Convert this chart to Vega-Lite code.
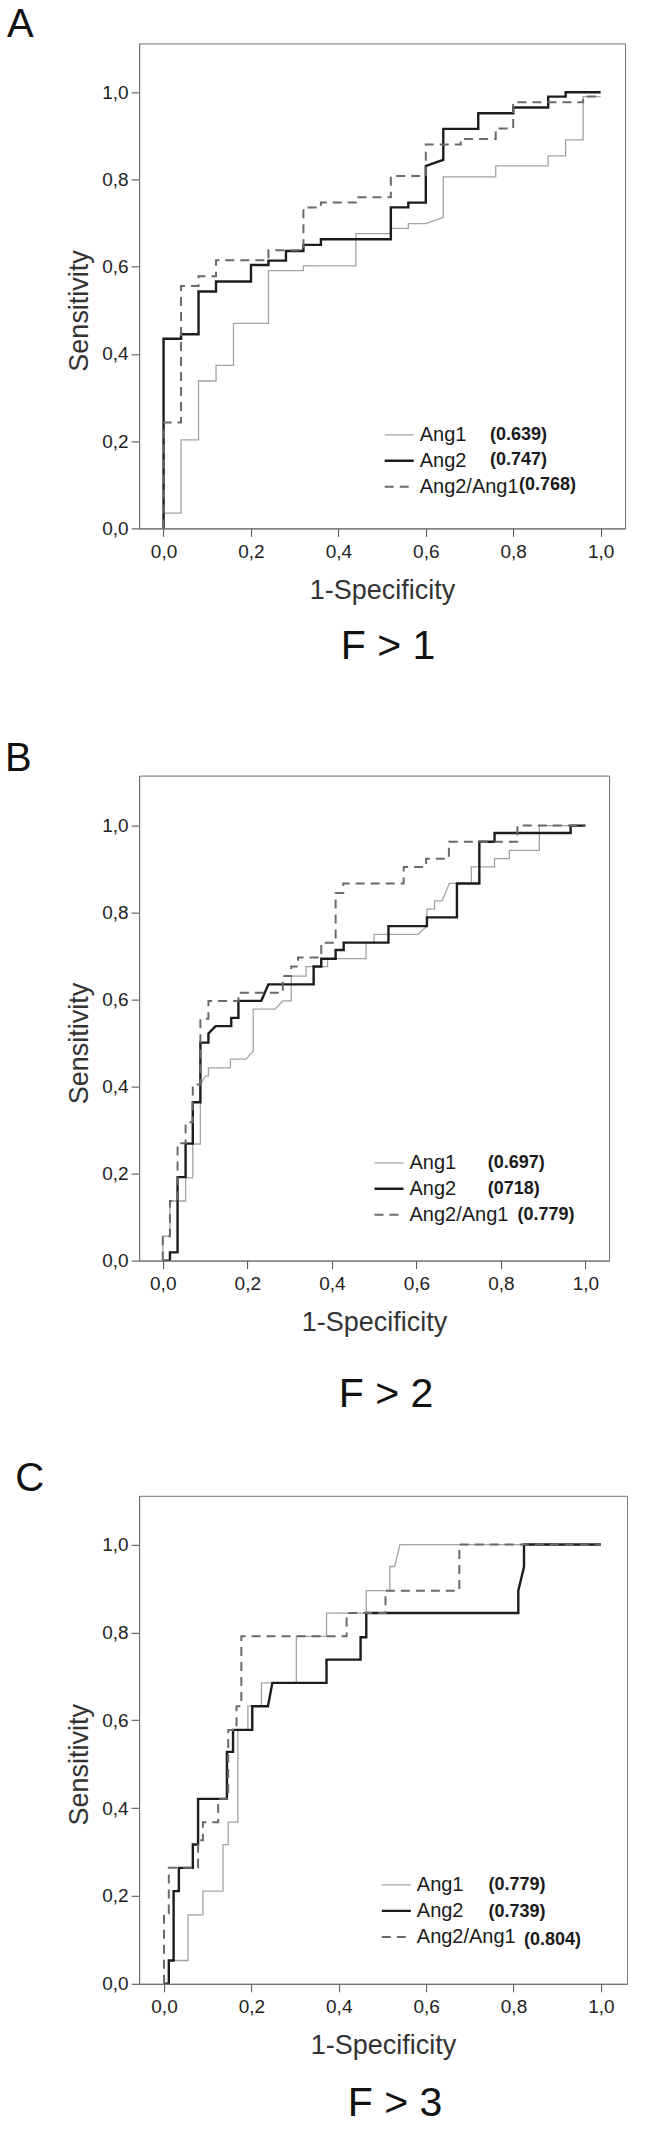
{
  "$schema": "https://vega.github.io/schema/vega-lite/v6.json",
  "background": "white",
  "padding": {"left": 4.1, "top": 4.4, "right": 0, "bottom": 0},
  "spacing": 42.2,
  "resolve": {"scale": {"color": "independent", "strokeDash": "independent", "shape": "independent", "fill": "independent"}, "legend": {"color": "independent", "strokeDash": "independent", "shape": "independent", "fill": "independent"}},
  "datasets": {
    "roc": [
      {"panel": "A", "series": "Ang1", "x": 0, "y": 0},
      {"panel": "A", "series": "Ang1", "x": 0, "y": 0.035},
      {"panel": "A", "series": "Ang1", "x": 0.04, "y": 0.035},
      {"panel": "A", "series": "Ang1", "x": 0.04, "y": 0.203},
      {"panel": "A", "series": "Ang1", "x": 0.08, "y": 0.203},
      {"panel": "A", "series": "Ang1", "x": 0.08, "y": 0.338},
      {"panel": "A", "series": "Ang1", "x": 0.12, "y": 0.338},
      {"panel": "A", "series": "Ang1", "x": 0.12, "y": 0.374},
      {"panel": "A", "series": "Ang1", "x": 0.16, "y": 0.374},
      {"panel": "A", "series": "Ang1", "x": 0.16, "y": 0.47},
      {"panel": "A", "series": "Ang1", "x": 0.24, "y": 0.47},
      {"panel": "A", "series": "Ang1", "x": 0.24, "y": 0.591},
      {"panel": "A", "series": "Ang1", "x": 0.32, "y": 0.591},
      {"panel": "A", "series": "Ang1", "x": 0.32, "y": 0.602},
      {"panel": "A", "series": "Ang1", "x": 0.44, "y": 0.602},
      {"panel": "A", "series": "Ang1", "x": 0.44, "y": 0.676},
      {"panel": "A", "series": "Ang1", "x": 0.52, "y": 0.676},
      {"panel": "A", "series": "Ang1", "x": 0.52, "y": 0.688},
      {"panel": "A", "series": "Ang1", "x": 0.56, "y": 0.688},
      {"panel": "A", "series": "Ang1", "x": 0.56, "y": 0.699},
      {"panel": "A", "series": "Ang1", "x": 0.6, "y": 0.699},
      {"panel": "A", "series": "Ang1", "x": 0.64, "y": 0.713},
      {"panel": "A", "series": "Ang1", "x": 0.64, "y": 0.806},
      {"panel": "A", "series": "Ang1", "x": 0.76, "y": 0.806},
      {"panel": "A", "series": "Ang1", "x": 0.76, "y": 0.831},
      {"panel": "A", "series": "Ang1", "x": 0.88, "y": 0.831},
      {"panel": "A", "series": "Ang1", "x": 0.88, "y": 0.854},
      {"panel": "A", "series": "Ang1", "x": 0.92, "y": 0.854},
      {"panel": "A", "series": "Ang1", "x": 0.92, "y": 0.891},
      {"panel": "A", "series": "Ang1", "x": 0.96, "y": 0.891},
      {"panel": "A", "series": "Ang1", "x": 0.96, "y": 0.99},
      {"panel": "A", "series": "Ang1", "x": 1, "y": 0.99},

      {"panel": "A", "series": "Ang2", "x": 0, "y": 0},
      {"panel": "A", "series": "Ang2", "x": 0, "y": 0.435},
      {"panel": "A", "series": "Ang2", "x": 0.04, "y": 0.435},
      {"panel": "A", "series": "Ang2", "x": 0.04, "y": 0.445},
      {"panel": "A", "series": "Ang2", "x": 0.08, "y": 0.445},
      {"panel": "A", "series": "Ang2", "x": 0.08, "y": 0.543},
      {"panel": "A", "series": "Ang2", "x": 0.12, "y": 0.543},
      {"panel": "A", "series": "Ang2", "x": 0.12, "y": 0.566},
      {"panel": "A", "series": "Ang2", "x": 0.2, "y": 0.566},
      {"panel": "A", "series": "Ang2", "x": 0.2, "y": 0.604},
      {"panel": "A", "series": "Ang2", "x": 0.24, "y": 0.604},
      {"panel": "A", "series": "Ang2", "x": 0.24, "y": 0.614},
      {"panel": "A", "series": "Ang2", "x": 0.28, "y": 0.614},
      {"panel": "A", "series": "Ang2", "x": 0.28, "y": 0.636},
      {"panel": "A", "series": "Ang2", "x": 0.32, "y": 0.636},
      {"panel": "A", "series": "Ang2", "x": 0.32, "y": 0.65},
      {"panel": "A", "series": "Ang2", "x": 0.36, "y": 0.65},
      {"panel": "A", "series": "Ang2", "x": 0.36, "y": 0.663},
      {"panel": "A", "series": "Ang2", "x": 0.52, "y": 0.663},
      {"panel": "A", "series": "Ang2", "x": 0.52, "y": 0.736},
      {"panel": "A", "series": "Ang2", "x": 0.56, "y": 0.736},
      {"panel": "A", "series": "Ang2", "x": 0.56, "y": 0.747},
      {"panel": "A", "series": "Ang2", "x": 0.6, "y": 0.747},
      {"panel": "A", "series": "Ang2", "x": 0.6, "y": 0.831},
      {"panel": "A", "series": "Ang2", "x": 0.64, "y": 0.845},
      {"panel": "A", "series": "Ang2", "x": 0.64, "y": 0.916},
      {"panel": "A", "series": "Ang2", "x": 0.72, "y": 0.916},
      {"panel": "A", "series": "Ang2", "x": 0.72, "y": 0.952},
      {"panel": "A", "series": "Ang2", "x": 0.8, "y": 0.952},
      {"panel": "A", "series": "Ang2", "x": 0.8, "y": 0.965},
      {"panel": "A", "series": "Ang2", "x": 0.88, "y": 0.965},
      {"panel": "A", "series": "Ang2", "x": 0.88, "y": 0.99},
      {"panel": "A", "series": "Ang2", "x": 0.92, "y": 0.99},
      {"panel": "A", "series": "Ang2", "x": 0.92, "y": 1},
      {"panel": "A", "series": "Ang2", "x": 1, "y": 1},

      {"panel": "A", "series": "Ang2/Ang1", "x": 0, "y": 0},
      {"panel": "A", "series": "Ang2/Ang1", "x": 0, "y": 0.243},
      {"panel": "A", "series": "Ang2/Ang1", "x": 0.04, "y": 0.243},
      {"panel": "A", "series": "Ang2/Ang1", "x": 0.04, "y": 0.556},
      {"panel": "A", "series": "Ang2/Ang1", "x": 0.08, "y": 0.556},
      {"panel": "A", "series": "Ang2/Ang1", "x": 0.08, "y": 0.578},
      {"panel": "A", "series": "Ang2/Ang1", "x": 0.12, "y": 0.578},
      {"panel": "A", "series": "Ang2/Ang1", "x": 0.12, "y": 0.615},
      {"panel": "A", "series": "Ang2/Ang1", "x": 0.24, "y": 0.615},
      {"panel": "A", "series": "Ang2/Ang1", "x": 0.24, "y": 0.638},
      {"panel": "A", "series": "Ang2/Ang1", "x": 0.32, "y": 0.638},
      {"panel": "A", "series": "Ang2/Ang1", "x": 0.32, "y": 0.736},
      {"panel": "A", "series": "Ang2/Ang1", "x": 0.36, "y": 0.736},
      {"panel": "A", "series": "Ang2/Ang1", "x": 0.36, "y": 0.747},
      {"panel": "A", "series": "Ang2/Ang1", "x": 0.44, "y": 0.747},
      {"panel": "A", "series": "Ang2/Ang1", "x": 0.44, "y": 0.759},
      {"panel": "A", "series": "Ang2/Ang1", "x": 0.52, "y": 0.759},
      {"panel": "A", "series": "Ang2/Ang1", "x": 0.52, "y": 0.808},
      {"panel": "A", "series": "Ang2/Ang1", "x": 0.6, "y": 0.808},
      {"panel": "A", "series": "Ang2/Ang1", "x": 0.6, "y": 0.88},
      {"panel": "A", "series": "Ang2/Ang1", "x": 0.68, "y": 0.88},
      {"panel": "A", "series": "Ang2/Ang1", "x": 0.68, "y": 0.893},
      {"panel": "A", "series": "Ang2/Ang1", "x": 0.76, "y": 0.893},
      {"panel": "A", "series": "Ang2/Ang1", "x": 0.76, "y": 0.917},
      {"panel": "A", "series": "Ang2/Ang1", "x": 0.8, "y": 0.917},
      {"panel": "A", "series": "Ang2/Ang1", "x": 0.8, "y": 0.977},
      {"panel": "A", "series": "Ang2/Ang1", "x": 0.96, "y": 0.977},
      {"panel": "A", "series": "Ang2/Ang1", "x": 0.96, "y": 0.99},
      {"panel": "A", "series": "Ang2/Ang1", "x": 1, "y": 0.99},

      {"panel": "B", "series": "Ang1", "x": 0, "y": 0},
      {"panel": "B", "series": "Ang1", "x": 0, "y": 0.056},
      {"panel": "B", "series": "Ang1", "x": 0.017, "y": 0.056},
      {"panel": "B", "series": "Ang1", "x": 0.017, "y": 0.137},
      {"panel": "B", "series": "Ang1", "x": 0.054, "y": 0.137},
      {"panel": "B", "series": "Ang1", "x": 0.054, "y": 0.19},
      {"panel": "B", "series": "Ang1", "x": 0.071, "y": 0.19},
      {"panel": "B", "series": "Ang1", "x": 0.071, "y": 0.268},
      {"panel": "B", "series": "Ang1", "x": 0.089, "y": 0.268},
      {"panel": "B", "series": "Ang1", "x": 0.089, "y": 0.405},
      {"panel": "B", "series": "Ang1", "x": 0.1, "y": 0.424},
      {"panel": "B", "series": "Ang1", "x": 0.108, "y": 0.424},
      {"panel": "B", "series": "Ang1", "x": 0.108, "y": 0.443},
      {"panel": "B", "series": "Ang1", "x": 0.16, "y": 0.443},
      {"panel": "B", "series": "Ang1", "x": 0.16, "y": 0.463},
      {"panel": "B", "series": "Ang1", "x": 0.197, "y": 0.463},
      {"panel": "B", "series": "Ang1", "x": 0.214, "y": 0.482},
      {"panel": "B", "series": "Ang1", "x": 0.214, "y": 0.578},
      {"panel": "B", "series": "Ang1", "x": 0.266, "y": 0.578},
      {"panel": "B", "series": "Ang1", "x": 0.284, "y": 0.597},
      {"panel": "B", "series": "Ang1", "x": 0.304, "y": 0.597},
      {"panel": "B", "series": "Ang1", "x": 0.304, "y": 0.654},
      {"panel": "B", "series": "Ang1", "x": 0.339, "y": 0.654},
      {"panel": "B", "series": "Ang1", "x": 0.339, "y": 0.676},
      {"panel": "B", "series": "Ang1", "x": 0.39, "y": 0.676},
      {"panel": "B", "series": "Ang1", "x": 0.39, "y": 0.694},
      {"panel": "B", "series": "Ang1", "x": 0.481, "y": 0.694},
      {"panel": "B", "series": "Ang1", "x": 0.481, "y": 0.731},
      {"panel": "B", "series": "Ang1", "x": 0.5, "y": 0.731},
      {"panel": "B", "series": "Ang1", "x": 0.5, "y": 0.75},
      {"panel": "B", "series": "Ang1", "x": 0.604, "y": 0.75},
      {"panel": "B", "series": "Ang1", "x": 0.625, "y": 0.769},
      {"panel": "B", "series": "Ang1", "x": 0.625, "y": 0.808},
      {"panel": "B", "series": "Ang1", "x": 0.643, "y": 0.808},
      {"panel": "B", "series": "Ang1", "x": 0.643, "y": 0.827},
      {"panel": "B", "series": "Ang1", "x": 0.661, "y": 0.827},
      {"panel": "B", "series": "Ang1", "x": 0.678, "y": 0.867},
      {"panel": "B", "series": "Ang1", "x": 0.73, "y": 0.867},
      {"panel": "B", "series": "Ang1", "x": 0.73, "y": 0.905},
      {"panel": "B", "series": "Ang1", "x": 0.785, "y": 0.905},
      {"panel": "B", "series": "Ang1", "x": 0.785, "y": 0.924},
      {"panel": "B", "series": "Ang1", "x": 0.82, "y": 0.924},
      {"panel": "B", "series": "Ang1", "x": 0.82, "y": 0.943},
      {"panel": "B", "series": "Ang1", "x": 0.891, "y": 0.943},
      {"panel": "B", "series": "Ang1", "x": 0.891, "y": 1},
      {"panel": "B", "series": "Ang1", "x": 1, "y": 1},

      {"panel": "B", "series": "Ang2", "x": 0, "y": 0},
      {"panel": "B", "series": "Ang2", "x": 0.017, "y": 0},
      {"panel": "B", "series": "Ang2", "x": 0.017, "y": 0.019},
      {"panel": "B", "series": "Ang2", "x": 0.035, "y": 0.019},
      {"panel": "B", "series": "Ang2", "x": 0.035, "y": 0.192},
      {"panel": "B", "series": "Ang2", "x": 0.054, "y": 0.192},
      {"panel": "B", "series": "Ang2", "x": 0.054, "y": 0.269},
      {"panel": "B", "series": "Ang2", "x": 0.071, "y": 0.269},
      {"panel": "B", "series": "Ang2", "x": 0.071, "y": 0.364},
      {"panel": "B", "series": "Ang2", "x": 0.089, "y": 0.364},
      {"panel": "B", "series": "Ang2", "x": 0.089, "y": 0.501},
      {"panel": "B", "series": "Ang2", "x": 0.108, "y": 0.501},
      {"panel": "B", "series": "Ang2", "x": 0.108, "y": 0.522},
      {"panel": "B", "series": "Ang2", "x": 0.125, "y": 0.539},
      {"panel": "B", "series": "Ang2", "x": 0.162, "y": 0.539},
      {"panel": "B", "series": "Ang2", "x": 0.162, "y": 0.558},
      {"panel": "B", "series": "Ang2", "x": 0.179, "y": 0.558},
      {"panel": "B", "series": "Ang2", "x": 0.179, "y": 0.597},
      {"panel": "B", "series": "Ang2", "x": 0.233, "y": 0.597},
      {"panel": "B", "series": "Ang2", "x": 0.25, "y": 0.635},
      {"panel": "B", "series": "Ang2", "x": 0.357, "y": 0.635},
      {"panel": "B", "series": "Ang2", "x": 0.357, "y": 0.676},
      {"panel": "B", "series": "Ang2", "x": 0.375, "y": 0.676},
      {"panel": "B", "series": "Ang2", "x": 0.375, "y": 0.694},
      {"panel": "B", "series": "Ang2", "x": 0.409, "y": 0.694},
      {"panel": "B", "series": "Ang2", "x": 0.409, "y": 0.714},
      {"panel": "B", "series": "Ang2", "x": 0.428, "y": 0.714},
      {"panel": "B", "series": "Ang2", "x": 0.428, "y": 0.731},
      {"panel": "B", "series": "Ang2", "x": 0.534, "y": 0.731},
      {"panel": "B", "series": "Ang2", "x": 0.534, "y": 0.769},
      {"panel": "B", "series": "Ang2", "x": 0.625, "y": 0.769},
      {"panel": "B", "series": "Ang2", "x": 0.625, "y": 0.789},
      {"panel": "B", "series": "Ang2", "x": 0.696, "y": 0.789},
      {"panel": "B", "series": "Ang2", "x": 0.696, "y": 0.867},
      {"panel": "B", "series": "Ang2", "x": 0.749, "y": 0.867},
      {"panel": "B", "series": "Ang2", "x": 0.749, "y": 0.963},
      {"panel": "B", "series": "Ang2", "x": 0.785, "y": 0.963},
      {"panel": "B", "series": "Ang2", "x": 0.785, "y": 0.983},
      {"panel": "B", "series": "Ang2", "x": 0.965, "y": 0.983},
      {"panel": "B", "series": "Ang2", "x": 0.965, "y": 1},
      {"panel": "B", "series": "Ang2", "x": 1, "y": 1},

      {"panel": "B", "series": "Ang2/Ang1", "x": 0, "y": 0},
      {"panel": "B", "series": "Ang2/Ang1", "x": 0, "y": 0.056},
      {"panel": "B", "series": "Ang2/Ang1", "x": 0.017, "y": 0.056},
      {"panel": "B", "series": "Ang2/Ang1", "x": 0.017, "y": 0.137},
      {"panel": "B", "series": "Ang2/Ang1", "x": 0.035, "y": 0.137},
      {"panel": "B", "series": "Ang2/Ang1", "x": 0.035, "y": 0.27},
      {"panel": "B", "series": "Ang2/Ang1", "x": 0.054, "y": 0.27},
      {"panel": "B", "series": "Ang2/Ang1", "x": 0.054, "y": 0.318},
      {"panel": "B", "series": "Ang2/Ang1", "x": 0.071, "y": 0.318},
      {"panel": "B", "series": "Ang2/Ang1", "x": 0.071, "y": 0.405},
      {"panel": "B", "series": "Ang2/Ang1", "x": 0.089, "y": 0.405},
      {"panel": "B", "series": "Ang2/Ang1", "x": 0.089, "y": 0.556},
      {"panel": "B", "series": "Ang2/Ang1", "x": 0.108, "y": 0.556},
      {"panel": "B", "series": "Ang2/Ang1", "x": 0.108, "y": 0.597},
      {"panel": "B", "series": "Ang2/Ang1", "x": 0.179, "y": 0.597},
      {"panel": "B", "series": "Ang2/Ang1", "x": 0.179, "y": 0.616},
      {"panel": "B", "series": "Ang2/Ang1", "x": 0.284, "y": 0.616},
      {"panel": "B", "series": "Ang2/Ang1", "x": 0.284, "y": 0.654},
      {"panel": "B", "series": "Ang2/Ang1", "x": 0.304, "y": 0.654},
      {"panel": "B", "series": "Ang2/Ang1", "x": 0.304, "y": 0.676},
      {"panel": "B", "series": "Ang2/Ang1", "x": 0.32, "y": 0.676},
      {"panel": "B", "series": "Ang2/Ang1", "x": 0.32, "y": 0.697},
      {"panel": "B", "series": "Ang2/Ang1", "x": 0.375, "y": 0.697},
      {"panel": "B", "series": "Ang2/Ang1", "x": 0.375, "y": 0.731},
      {"panel": "B", "series": "Ang2/Ang1", "x": 0.409, "y": 0.731},
      {"panel": "B", "series": "Ang2/Ang1", "x": 0.409, "y": 0.845},
      {"panel": "B", "series": "Ang2/Ang1", "x": 0.427, "y": 0.845},
      {"panel": "B", "series": "Ang2/Ang1", "x": 0.427, "y": 0.867},
      {"panel": "B", "series": "Ang2/Ang1", "x": 0.57, "y": 0.867},
      {"panel": "B", "series": "Ang2/Ang1", "x": 0.57, "y": 0.905},
      {"panel": "B", "series": "Ang2/Ang1", "x": 0.623, "y": 0.905},
      {"panel": "B", "series": "Ang2/Ang1", "x": 0.623, "y": 0.924},
      {"panel": "B", "series": "Ang2/Ang1", "x": 0.677, "y": 0.924},
      {"panel": "B", "series": "Ang2/Ang1", "x": 0.677, "y": 0.963},
      {"panel": "B", "series": "Ang2/Ang1", "x": 0.839, "y": 0.963},
      {"panel": "B", "series": "Ang2/Ang1", "x": 0.839, "y": 1},
      {"panel": "B", "series": "Ang2/Ang1", "x": 1, "y": 1},

      {"panel": "C", "series": "Ang1", "x": 0, "y": 0},
      {"panel": "C", "series": "Ang1", "x": 0.011, "y": 0},
      {"panel": "C", "series": "Ang1", "x": 0.011, "y": 0.053},
      {"panel": "C", "series": "Ang1", "x": 0.055, "y": 0.053},
      {"panel": "C", "series": "Ang1", "x": 0.055, "y": 0.157},
      {"panel": "C", "series": "Ang1", "x": 0.089, "y": 0.157},
      {"panel": "C", "series": "Ang1", "x": 0.089, "y": 0.211},
      {"panel": "C", "series": "Ang1", "x": 0.135, "y": 0.211},
      {"panel": "C", "series": "Ang1", "x": 0.135, "y": 0.317},
      {"panel": "C", "series": "Ang1", "x": 0.147, "y": 0.317},
      {"panel": "C", "series": "Ang1", "x": 0.147, "y": 0.368},
      {"panel": "C", "series": "Ang1", "x": 0.169, "y": 0.368},
      {"panel": "C", "series": "Ang1", "x": 0.169, "y": 0.578},
      {"panel": "C", "series": "Ang1", "x": 0.192, "y": 0.578},
      {"panel": "C", "series": "Ang1", "x": 0.192, "y": 0.632},
      {"panel": "C", "series": "Ang1", "x": 0.223, "y": 0.632},
      {"panel": "C", "series": "Ang1", "x": 0.223, "y": 0.685},
      {"panel": "C", "series": "Ang1", "x": 0.303, "y": 0.685},
      {"panel": "C", "series": "Ang1", "x": 0.303, "y": 0.791},
      {"panel": "C", "series": "Ang1", "x": 0.372, "y": 0.791},
      {"panel": "C", "series": "Ang1", "x": 0.372, "y": 0.844},
      {"panel": "C", "series": "Ang1", "x": 0.463, "y": 0.844},
      {"panel": "C", "series": "Ang1", "x": 0.463, "y": 0.895},
      {"panel": "C", "series": "Ang1", "x": 0.517, "y": 0.895},
      {"panel": "C", "series": "Ang1", "x": 0.517, "y": 0.95},
      {"panel": "C", "series": "Ang1", "x": 0.528, "y": 0.95},
      {"panel": "C", "series": "Ang1", "x": 0.54, "y": 1},
      {"panel": "C", "series": "Ang1", "x": 1, "y": 1},

      {"panel": "C", "series": "Ang2", "x": 0, "y": 0},
      {"panel": "C", "series": "Ang2", "x": 0.011, "y": 0},
      {"panel": "C", "series": "Ang2", "x": 0.011, "y": 0.053},
      {"panel": "C", "series": "Ang2", "x": 0.022, "y": 0.053},
      {"panel": "C", "series": "Ang2", "x": 0.022, "y": 0.211},
      {"panel": "C", "series": "Ang2", "x": 0.034, "y": 0.211},
      {"panel": "C", "series": "Ang2", "x": 0.034, "y": 0.264},
      {"panel": "C", "series": "Ang2", "x": 0.066, "y": 0.264},
      {"panel": "C", "series": "Ang2", "x": 0.066, "y": 0.317},
      {"panel": "C", "series": "Ang2", "x": 0.078, "y": 0.317},
      {"panel": "C", "series": "Ang2", "x": 0.078, "y": 0.421},
      {"panel": "C", "series": "Ang2", "x": 0.144, "y": 0.421},
      {"panel": "C", "series": "Ang2", "x": 0.144, "y": 0.528},
      {"panel": "C", "series": "Ang2", "x": 0.158, "y": 0.528},
      {"panel": "C", "series": "Ang2", "x": 0.158, "y": 0.578},
      {"panel": "C", "series": "Ang2", "x": 0.202, "y": 0.578},
      {"panel": "C", "series": "Ang2", "x": 0.202, "y": 0.632},
      {"panel": "C", "series": "Ang2", "x": 0.238, "y": 0.632},
      {"panel": "C", "series": "Ang2", "x": 0.248, "y": 0.685},
      {"panel": "C", "series": "Ang2", "x": 0.372, "y": 0.685},
      {"panel": "C", "series": "Ang2", "x": 0.372, "y": 0.738},
      {"panel": "C", "series": "Ang2", "x": 0.45, "y": 0.738},
      {"panel": "C", "series": "Ang2", "x": 0.45, "y": 0.789},
      {"panel": "C", "series": "Ang2", "x": 0.463, "y": 0.789},
      {"panel": "C", "series": "Ang2", "x": 0.463, "y": 0.844},
      {"panel": "C", "series": "Ang2", "x": 0.811, "y": 0.844},
      {"panel": "C", "series": "Ang2", "x": 0.811, "y": 0.895},
      {"panel": "C", "series": "Ang2", "x": 0.824, "y": 0.949},
      {"panel": "C", "series": "Ang2", "x": 0.824, "y": 1},
      {"panel": "C", "series": "Ang2", "x": 1, "y": 1},

      {"panel": "C", "series": "Ang2/Ang1", "x": 0, "y": 0},
      {"panel": "C", "series": "Ang2/Ang1", "x": 0, "y": 0.16},
      {"panel": "C", "series": "Ang2/Ang1", "x": 0.011, "y": 0.16},
      {"panel": "C", "series": "Ang2/Ang1", "x": 0.011, "y": 0.264},
      {"panel": "C", "series": "Ang2/Ang1", "x": 0.078, "y": 0.264},
      {"panel": "C", "series": "Ang2/Ang1", "x": 0.078, "y": 0.327},
      {"panel": "C", "series": "Ang2/Ang1", "x": 0.089, "y": 0.327},
      {"panel": "C", "series": "Ang2/Ang1", "x": 0.089, "y": 0.368},
      {"panel": "C", "series": "Ang2/Ang1", "x": 0.124, "y": 0.368},
      {"panel": "C", "series": "Ang2/Ang1", "x": 0.124, "y": 0.421},
      {"panel": "C", "series": "Ang2/Ang1", "x": 0.147, "y": 0.421},
      {"panel": "C", "series": "Ang2/Ang1", "x": 0.147, "y": 0.578},
      {"panel": "C", "series": "Ang2/Ang1", "x": 0.166, "y": 0.578},
      {"panel": "C", "series": "Ang2/Ang1", "x": 0.166, "y": 0.632},
      {"panel": "C", "series": "Ang2/Ang1", "x": 0.177, "y": 0.632},
      {"panel": "C", "series": "Ang2/Ang1", "x": 0.177, "y": 0.791},
      {"panel": "C", "series": "Ang2/Ang1", "x": 0.418, "y": 0.791},
      {"panel": "C", "series": "Ang2/Ang1", "x": 0.418, "y": 0.844},
      {"panel": "C", "series": "Ang2/Ang1", "x": 0.507, "y": 0.844},
      {"panel": "C", "series": "Ang2/Ang1", "x": 0.507, "y": 0.895},
      {"panel": "C", "series": "Ang2/Ang1", "x": 0.676, "y": 0.895},
      {"panel": "C", "series": "Ang2/Ang1", "x": 0.676, "y": 1},
      {"panel": "C", "series": "Ang2/Ang1", "x": 1, "y": 1}
    ]
  },
  "vconcat": [
    {
      "title": {"text": "A", "anchor": "start", "frame": "bounds", "fontSize": 40, "offset": -2, "dx": -58.1},
      "vconcat": [
        {
          "width": 486,
          "height": 485,
          "title": {"text": "F > 1", "subtitle": ".", "subtitleColor": "#ffffff", "subtitleFontSize": 26.7, "subtitlePadding": 0, "orient": "bottom", "anchor": "middle", "frame": "group", "fontSize": 41, "offset": 24, "dx": 6},
          "data": {"name": "roc"},
          "transform": [{"filter": "datum.panel == 'A'"}],
          "encoding": {
            "x": {"field": "x", "type": "quantitative", "scale": {"domain": [-0.056, 1.056], "nice": false, "zero": false}, "axis": {"title": "1-Specificity", "values": [0, 0.2, 0.4, 0.6, 0.8, 1], "labelExpr": "replace(format(datum.value, '.1f'), '.', ',')"}},
            "y": {"field": "y", "type": "quantitative", "scale": {"domain": [0, 1.112], "nice": false, "zero": false}, "axis": {"title": "Sensitivity", "titleY": 267, "values": [0, 0.2, 0.4, 0.6, 0.8, 1], "labelExpr": "replace(format(datum.value, '.1f'), '.', ',')"}}
          },
          "layer": [
            {
              "mark": {"type": "line", "strokeCap": "butt", "strokeJoin": "miter", "clip": true},
              "encoding": {
                "color": {"field": "series", "type": "nominal", "scale": {"domain": ["Ang1", "Ang2", "Ang2/Ang1"], "range": ["#a3a3a3", "#1c1c1c", "#6a6a6a"]},
                  "legend": {"title": null, "orient": "none", "legendX": 244.6, "legendY": 375.9, "padding": 0, "symbolType": "stroke", "symbolSize": 841, "symbolStrokeWidth": 2, "labelFontSize": 20, "labelColor": "#1a1a1a", "labelOffset": 5, "labelLimit": 300, "rowPadding": -6.3,
                    "encode": {"symbols": {"update": {"strokeWidth": {"signal": "(datum.value == 'Ang2' ? 2.4 : datum.value == 'Ang2/Ang1' ? 2 : 1.3)"}}}}}},
                "strokeDash": {"field": "series", "type": "nominal", "scale": {"domain": ["Ang1", "Ang2", "Ang2/Ang1"], "range": [[1, 0], [1, 0], [9, 6]]}},
                "strokeWidth": {"condition": [{"test": "datum.series == 'Ang2'", "value": 2.4}, {"test": "datum.series == 'Ang2/Ang1'", "value": 2}], "value": 1.3},
                "order": {"value": null}
              }
            },
            {
              "mark": {"type": "point", "opacity": 0},
              "encoding": {
                "shape": {"field": "series", "type": "nominal",
                  "legend": {"title": null, "orient": "none", "legendX": 333, "legendY": 382.4, "padding": 0, "values": ["Ang1", "Ang2"], "symbolSize": 0, "symbolStrokeWidth": 0, "symbolOpacity": 0, "labelFontSize": 18, "labelFontWeight": "bold", "labelColor": "#1a1a1a", "labelOffset": 0, "labelLimit": 300, "rowPadding": 7.2,
                    "labelExpr": "datum.label == 'Ang1' ? '(0.639)' : '(0.747)'"}}
              }
            },
            {
              "mark": {"type": "point", "opacity": 0},
              "encoding": {
                "fill": {"field": "series", "type": "nominal", "scale": {"domain": ["Ang2/Ang1", "Ang1", "Ang2"], "range": ["#000000", "#000000", "#000000"]},
                  "legend": {"title": null, "orient": "none", "legendX": 362, "legendY": 432.8, "padding": 0, "values": ["Ang2/Ang1"], "symbolSize": 0, "symbolStrokeWidth": 0, "symbolOpacity": 0, "labelFontSize": 18, "labelFontWeight": "bold", "labelColor": "#1a1a1a", "labelOffset": 0, "labelLimit": 300,
                    "labelExpr": "'(0.768)'"}}
              }
            }
          ]
        }
      ]
    },
    {
      "title": {"text": "B", "anchor": "start", "frame": "bounds", "fontSize": 40, "offset": -3.7, "dx": -60.2},
      "vconcat": [
        {
          "width": 470,
          "height": 485,
          "title": {"text": "F > 2", "orient": "bottom", "anchor": "middle", "frame": "group", "fontSize": 41, "offset": 39.6, "dx": 12},
          "data": {"name": "roc"},
          "transform": [{"filter": "datum.panel == 'B'"}],
          "encoding": {
            "x": {"field": "x", "type": "quantitative", "scale": {"domain": [-0.056, 1.056], "nice": false, "zero": false}, "axis": {"title": "1-Specificity", "values": [0, 0.2, 0.4, 0.6, 0.8, 1], "labelExpr": "replace(format(datum.value, '.1f'), '.', ',')"}},
            "y": {"field": "y", "type": "quantitative", "scale": {"domain": [0, 1.115], "nice": false, "zero": false}, "axis": {"title": "Sensitivity", "titleY": 267.5, "values": [0, 0.2, 0.4, 0.6, 0.8, 1], "labelExpr": "replace(format(datum.value, '.1f'), '.', ',')"}}
          },
          "layer": [
            {
              "mark": {"type": "line", "strokeCap": "butt", "strokeJoin": "miter", "clip": true},
              "encoding": {
                "color": {"field": "series", "type": "nominal", "scale": {"domain": ["Ang1", "Ang2", "Ang2/Ang1"], "range": ["#a3a3a3", "#1c1c1c", "#6a6a6a"]},
                  "legend": {"title": null, "orient": "none", "legendX": 234.4, "legendY": 371.7, "padding": 0, "symbolType": "stroke", "symbolSize": 841, "symbolStrokeWidth": 2, "labelFontSize": 20, "labelColor": "#1a1a1a", "labelOffset": 5, "labelLimit": 300, "rowPadding": -5.5,
                    "encode": {"symbols": {"update": {"strokeWidth": {"signal": "(datum.value == 'Ang2' ? 2.4 : datum.value == 'Ang2/Ang1' ? 2 : 1.3)"}}}}}},
                "strokeDash": {"field": "series", "type": "nominal", "scale": {"domain": ["Ang1", "Ang2", "Ang2/Ang1"], "range": [[1, 0], [1, 0], [9, 6]]}},
                "strokeWidth": {"condition": [{"test": "datum.series == 'Ang2'", "value": 2.4}, {"test": "datum.series == 'Ang2/Ang1'", "value": 2}], "value": 1.3},
                "order": {"value": null}
              }
            },
            {
              "mark": {"type": "point", "opacity": 0},
              "encoding": {
                "shape": {"field": "series", "type": "nominal",
                  "legend": {"title": null, "orient": "none", "legendX": 330.7, "legendY": 378.2, "padding": 0, "values": ["Ang1", "Ang2"], "symbolSize": 0, "symbolStrokeWidth": 0, "symbolOpacity": 0, "labelFontSize": 18, "labelFontWeight": "bold", "labelColor": "#1a1a1a", "labelOffset": 0, "labelLimit": 300, "rowPadding": 8,
                    "labelExpr": "datum.label == 'Ang1' ? '(0.697)' : '(0718)'"}}
              }
            },
            {
              "mark": {"type": "point", "opacity": 0},
              "encoding": {
                "fill": {"field": "series", "type": "nominal", "scale": {"domain": ["Ang2/Ang1", "Ang1", "Ang2"], "range": ["#000000", "#000000", "#000000"]},
                  "legend": {"title": null, "orient": "none", "legendX": 360.3, "legendY": 430.3, "padding": 0, "values": ["Ang2/Ang1"], "symbolSize": 0, "symbolStrokeWidth": 0, "symbolOpacity": 0, "labelFontSize": 18, "labelFontWeight": "bold", "labelColor": "#1a1a1a", "labelOffset": 0, "labelLimit": 300,
                    "labelExpr": "'(0.779)'"}}
              }
            }
          ]
        }
      ]
    },
    {
      "title": {"text": "C", "anchor": "start", "frame": "bounds", "fontSize": 40, "offset": -4.2, "dx": -49.9},
      "vconcat": [
        {
          "width": 488,
          "height": 488,
          "title": {"text": "F > 3", "orient": "bottom", "anchor": "middle", "frame": "group", "fontSize": 41, "offset": 25.6, "dx": 12},
          "data": {"name": "roc"},
          "transform": [{"filter": "datum.panel == 'C'"}],
          "encoding": {
            "x": {"field": "x", "type": "quantitative", "scale": {"domain": [-0.057, 1.06], "nice": false, "zero": false}, "axis": {"title": "1-Specificity", "values": [0, 0.2, 0.4, 0.6, 0.8, 1], "labelExpr": "replace(format(datum.value, '.1f'), '.', ',')"}},
            "y": {"field": "y", "type": "quantitative", "scale": {"domain": [0, 1.111], "nice": false, "zero": false}, "axis": {"title": "Sensitivity", "titleY": 268.4, "values": [0, 0.2, 0.4, 0.6, 0.8, 1], "labelExpr": "replace(format(datum.value, '.1f'), '.', ',')"}}
          },
          "layer": [
            {
              "mark": {"type": "line", "strokeCap": "butt", "strokeJoin": "miter", "clip": true},
              "encoding": {
                "color": {"field": "series", "type": "nominal", "scale": {"domain": ["Ang1", "Ang2", "Ang2/Ang1"], "range": ["#a3a3a3", "#1c1c1c", "#6a6a6a"]},
                  "legend": {"title": null, "orient": "none", "legendX": 241.7, "legendY": 373.6, "padding": 0, "symbolType": "stroke", "symbolSize": 841, "symbolStrokeWidth": 2, "labelFontSize": 20, "labelColor": "#1a1a1a", "labelOffset": 5, "labelLimit": 300, "rowPadding": -4,
                    "encode": {"symbols": {"update": {"strokeWidth": {"signal": "(datum.value == 'Ang2' ? 2.4 : datum.value == 'Ang2/Ang1' ? 2 : 1.3)"}}}}}},
                "strokeDash": {"field": "series", "type": "nominal", "scale": {"domain": ["Ang1", "Ang2", "Ang2/Ang1"], "range": [[1, 0], [1, 0], [9, 6]]}},
                "strokeWidth": {"condition": [{"test": "datum.series == 'Ang2'", "value": 2.4}, {"test": "datum.series == 'Ang2/Ang1'", "value": 2}], "value": 1.3},
                "order": {"value": null}
              }
            },
            {
              "mark": {"type": "point", "opacity": 0},
              "encoding": {
                "shape": {"field": "series", "type": "nominal",
                  "legend": {"title": null, "orient": "none", "legendX": 331.4, "legendY": 380.1, "padding": 0, "values": ["Ang1", "Ang2"], "symbolSize": 0, "symbolStrokeWidth": 0, "symbolOpacity": 0, "labelFontSize": 18, "labelFontWeight": "bold", "labelColor": "#1a1a1a", "labelOffset": 0, "labelLimit": 300, "rowPadding": 9.5,
                    "labelExpr": "datum.label == 'Ang1' ? '(0.779)' : '(0.739)'"}}
              }
            },
            {
              "mark": {"type": "point", "opacity": 0},
              "encoding": {
                "fill": {"field": "series", "type": "nominal", "scale": {"domain": ["Ang2/Ang1", "Ang1", "Ang2"], "range": ["#000000", "#000000", "#000000"]},
                  "legend": {"title": null, "orient": "none", "legendX": 367, "legendY": 435.1, "padding": 0, "values": ["Ang2/Ang1"], "symbolSize": 0, "symbolStrokeWidth": 0, "symbolOpacity": 0, "labelFontSize": 18, "labelFontWeight": "bold", "labelColor": "#1a1a1a", "labelOffset": 0, "labelLimit": 300,
                    "labelExpr": "'(0.804)'"}}
              }
            }
          ]
        }
      ]
    }
  ],
  "config": {
    "font": "Liberation Sans",
    "view": {"stroke": "#6e6e6e", "strokeWidth": 1},
    "axis": {
      "grid": false,
      "domainColor": "#6e6e6e",
      "tickColor": "#4a4a4a",
      "tickSize": 8,
      "labelFont": "Liberation Sans",
      "labelFontSize": 19,
      "labelColor": "#222222",
      "labelFlush": false,
      "titleFont": "Liberation Sans",
      "titleFontSize": 27,
      "titleFontWeight": "normal",
      "titleColor": "#333333"
    },
    "axisX": {"labelPadding": 6, "titlePadding": 16},
    "axisY": {"labelPadding": 3, "titlePadding": 8},
    "legend": {"labelFont": "Liberation Sans"},
    "title": {"font": "Liberation Sans", "fontWeight": "normal", "color": "#111111"}
  }
}
